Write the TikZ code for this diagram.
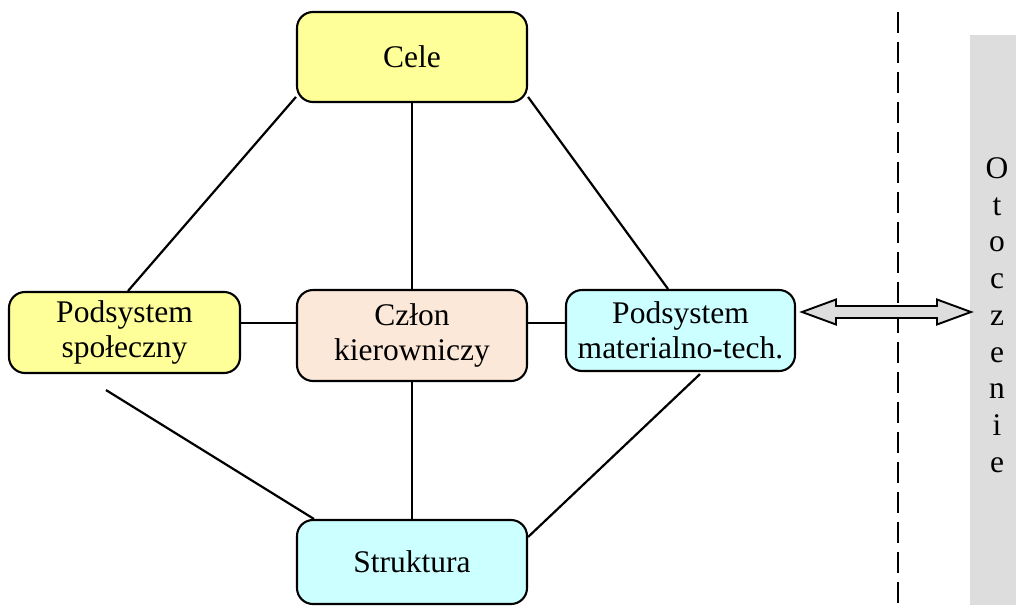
\documentclass[tikz,border=0pt]{standalone}
\usepackage{fontspec}
\setmainfont{Liberation Serif}
\definecolor{boxyellow}{HTML}{FFFF99}
\definecolor{boxpeach}{HTML}{FCE8D8}
\definecolor{boxcyan}{HTML}{CCFFFF}
\definecolor{envgray}{HTML}{DDDDDD}
\begin{document}
\begin{tikzpicture}[x=1pt,y=-1pt,
  unit/.style={draw=black, line width=2.1pt, rounded corners=16pt, align=center,
    inner sep=0pt, font=\fontsize{31.5}{35}\selectfont},
  link/.style={line width=2.2pt},
  border/.style={line width=2.8pt, dash pattern=on 21pt off 9pt},
  flow/.style={draw=black, line width=1.9pt, fill=envgray, line join=miter}
]
\useasboundingbox (0,0) rectangle (1016,605);

% environment band on the right
\fill[envgray] (970,35) rectangle (1016,605);
\node[align=center, inner sep=0pt, font=\fontsize{31.5}{36.75}\selectfont] (env) at (997,315)
  {O\\t\\o\\c\\z\\e\\n\\i\\e};

% system boundary
\coordinate (btop) at (898,12);
\coordinate (bbot) at (898,605);
\draw[border] (btop) -- (bbot);

% subsystems
\node[unit, fill=boxyellow, minimum width=230pt, minimum height=90pt] (cele) at (412,57) {Cele};
\node[unit, fill=boxyellow, minimum width=231pt, minimum height=81pt] (ps) at (124.5,332.5) {Podsystem\\społeczny};
\node[unit, fill=boxpeach, minimum width=230pt, minimum height=91pt] (ck) at (412,335.5) {Człon\\kierowniczy};
\node[unit, fill=boxcyan, minimum width=229pt, minimum height=81pt] (pm) at (680.5,330.5) {Podsystem\\materialno-tech.};
\node[unit, fill=boxcyan, minimum width=230pt, minimum height=84pt] (st) at (412,562) {Struktura};

% links between subsystems
\draw[link] (cele.199) -- ([xshift=3.5pt]ps.north);
\draw[link] (cele.south) -- (ck.north);
\draw[link] (cele.-19) -- ([xshift=-12.5pt]pm.north);
\draw[link] ([yshift=9.5pt]ps.east) -- ([yshift=12.5pt]ck.west);
\draw[link] ([yshift=12.5pt]ck.east) -- ([yshift=7.5pt]pm.west);
\draw[link] (ck.south) -- (st.north);
\draw[link] ([xshift=-18.5pt,yshift=-16pt]ps.south) -- ([xshift=18pt]st.north west);
\draw[link] ([xshift=19.5pt,yshift=-2pt]pm.south) -- ([yshift=25pt]st.east);

% exchange with the environment
\coordinate (aL) at (802,312);
\coordinate (aR) at (971,312);
\draw[flow] (aL) -- ++(34,-12.5) -- ++(0,6.5) -- ++(101,0) -- ++(0,-6.5)
  -- (aR) -- ++(-34,12.5) -- ++(0,-6.5) -- ++(-101,0) -- ++(0,6.5) -- cycle;
\end{tikzpicture}
\end{document}
